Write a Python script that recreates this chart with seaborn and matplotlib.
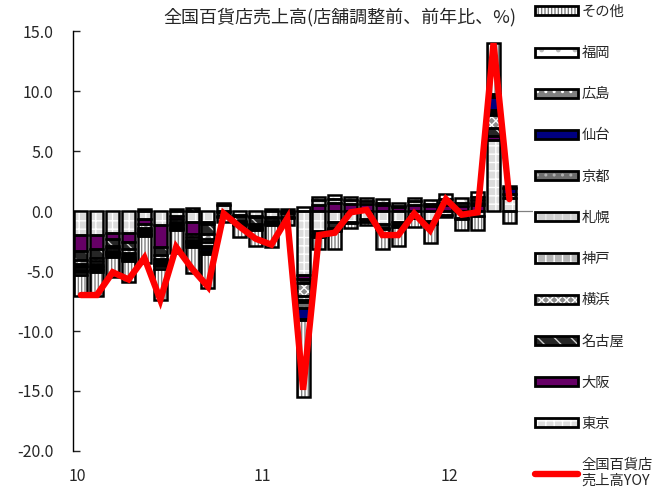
import numpy as np
import matplotlib
matplotlib.use("Agg")
import matplotlib.pyplot as plt
from matplotlib.patches import Patch
from matplotlib.lines import Line2D
import seaborn as sns

# monthly contributions by city (Jan 2010 - Apr 2012), % points
tokyo = [-2.0, -2.0, -1.8, -1.8, -0.7, -1.2, -0.4, -0.9, -0.9, 0.5, -0.3, -0.4, -0.5, -0.2,
         -5.3, -1.7, -0.9, -0.9, -0.7, -1.1, -0.9, -0.5, -0.8, -0.3, -0.6, -0.4, 5.9, 1.1]
osaka = [-1.3, -1.2, -0.5, -0.8, -0.4, -1.8, -0.3, -1.0, -0.2, -0.1, -0.1, -0.1, -0.1, 0.0,
         -0.4, 0.5, 0.7, 0.6, 0.6, 0.5, 0.3, 0.5, 0.4, 0.5, 0.4, 0.5, 0.4, 0.0]
nagoya = [-0.8, -0.7, -0.6, -0.6, 0.2, -0.7, 0.2, 0.25, -0.8, -0.3, -0.4, -0.6, 0.2, -0.3,
          -0.3, -0.2, -0.5, -0.1, -0.2, -0.3, -0.3, -0.1, -0.2, 0.2, -0.1, 0.2, 0.6, 0.3]
yokohama = [-0.3, -0.3, -0.2, -0.3, -0.3, -0.3, -0.2, -0.3, -0.4, -0.1, -0.1, -0.1, -0.2, -0.1,
            -1.1, -0.1, -0.1, 0.0, 0.0, -0.1, -0.1, 0.0, -0.1, 0.0, 0.0, 0.2, 1.1, 0.0]
kobe = [-0.2, -0.2, -0.2, -0.2, -0.2, -0.2, -0.2, -0.2, -0.3, 0.0, -0.1, -0.1, -0.1, 0.0,
        -0.3, 0.0, -0.1, 0.0, 0.0, 0.0, 0.0, 0.0, 0.0, 0.0, 0.0, 0.0, 0.2, 0.0]
sapporo = [-0.1, -0.2, -0.1, -0.1, -0.1, -0.1, -0.1, -0.1, -0.3, 0.0, 0.0, -0.1, -0.1, 0.0,
           -0.2, 0.4, 0.3, 0.3, 0.2, 0.2, 0.15, 0.3, 0.2, 0.3, 0.3, 0.3, 0.1, 0.0]
kyoto = [-0.2, -0.1, -0.1, -0.1, -0.1, -0.1, -0.1, -0.1, -0.2, 0.0, -0.1, -0.1, -0.1, 0.0,
         -0.5, -0.1, -0.1, 0.0, 0.0, 0.0, 0.0, 0.0, 0.0, 0.0, 0.0, 0.0, 0.1, 0.0]
sendai = [-0.1, -0.1, -0.1, -0.1, -0.1, -0.1, -0.1, -0.1, -0.2, 0.0, 0.0, 0.0, 0.0, 0.0,
          -0.9, -0.1, 0.0, 0.0, 0.0, 0.0, 0.0, 0.0, 0.0, 0.0, 0.0, 0.0, 1.1, 0.5]
hiroshima = [-0.1, -0.1, -0.1, -0.1, -0.1, -0.1, -0.1, -0.1, -0.1, 0.0, 0.0, 0.0, 0.0, 0.0,
             -0.1, 0.0, 0.0, 0.0, 0.0, 0.0, 0.0, 0.0, 0.0, 0.0, 0.0, 0.0, 0.1, 0.0]
fukuoka = [-0.2, -0.2, -0.1, -0.1, -0.1, -0.2, -0.1, -0.2, -0.2, 0.2, -0.1, -0.1, -0.1, 0.2,
           0.3, 0.3, 0.3, 0.3, 0.3, 0.3, 0.2, 0.3, 0.3, 0.4, 0.4, 0.4, 0.2, 0.2]
other = [-1.8, -2.0, -1.7, -1.7, -2.2, -2.6, -1.9, -2.2, -2.8, -0.4, -1.0, -1.3, -1.8, -0.6,
         -6.4, -1.0, -1.5, -0.4, -0.3, -1.7, -1.6, -0.7, -1.6, -0.2, -0.9, -1.2, 4.2, -1.0]

# total YoY
yoy = [-7.0, -7.0, -5.1, -5.7, -3.9, -7.4, -3.0, -4.8, -6.3, -0.2, -1.3, -2.3, -2.8, -0.6,
       -14.9, -2.0, -1.8, -0.1, 0.1, -2.0, -2.0, -0.2, -1.6, 1.0, -0.3, -0.1, 14.0, 1.0]

year_labels = ["10", "11", "12"]

# name, values, facecolor, hatch, hatch colour (stack order from zero outward)
series = [
    ("東京", tokyo, "#dcdcdc", "++", "white"),
    ("大阪", osaka, "#660066", "", "#660066"),
    ("名古屋", nagoya, "#262626", "\\\\", "#d0d0d0"),
    ("横浜", yokohama, "#8c8c8c", "xxxx", "white"),
    ("神戸", kobe, "#b4b4b4", "++", "white"),
    ("札幌", sapporo, "#cfcfcf", "||", "#e8e8e8"),
    ("京都", kyoto, "#6e6e6e", "..", "#b0b0b0"),
    ("仙台", sendai, "#000080", "", "#000080"),
    ("広島", hiroshima, "#7f7f7f", "..", "white"),
    ("福岡", fukuoka, "white", ".", "#bbbbbb"),
    ("その他", other, "white", "|||||", "#808080"),
]

sns.set_style("white")
plt.rcParams["font.family"] = ["Noto Sans CJK JP", "DejaVu Sans"]
plt.rcParams["hatch.linewidth"] = 1.0

n = len(yoy)
xpos = np.arange(n)
order = list(range(n))

fig = plt.figure(figsize=(6.64, 4.95), dpi=100)
ax = fig.add_axes([0.110, 0.089, 0.693, 0.848])

ax.axhline(0, color="#808080", lw=0.9, zorder=0)

pos_base = np.zeros(n)
neg_base = np.zeros(n)
handles = []
for name, vals, fc, hatch, hc in series:
    v = np.array(vals, dtype=float)
    base = np.where(v >= 0, pos_base, neg_base)
    mask = v != 0
    # filled / hatched layer
    sns.barplot(x=xpos[mask], y=v[mask], order=order, bottom=base[mask], width=0.82,
                color=fc, facecolor=fc, hatch=hatch, edgecolor=hc, linewidth=0,
                errorbar=None, ax=ax, zorder=1)
    # black outline
    sns.barplot(x=xpos[mask], y=v[mask], order=order, bottom=base[mask], width=0.82,
                color="black", fill=False, edgecolor="black", linewidth=1.8,
                errorbar=None, ax=ax, zorder=1.5)
    pos_base = pos_base + np.where(v > 0, v, 0)
    neg_base = neg_base + np.where(v < 0, v, 0)
    handles.append((Patch(facecolor=fc, hatch=hatch, edgecolor=hc, linewidth=0),
                    Patch(fill=False, edgecolor="black", linewidth=2.0)))

sns.lineplot(x=xpos, y=yoy, color="red", linewidth=4.6, ax=ax, zorder=3,
             solid_capstyle="round", solid_joinstyle="miter")

ax.set_xlim(-0.5, 28.5)
ax.set_ylim(-20, 15)
ax.set_yticks(np.arange(-20, 15.1, 5))
ax.set_yticklabels([f"{t:.1f}" for t in np.arange(-20, 15.1, 5)])
ax.set_xticks([-0.2, 11.45, 23.2])
ax.set_xticklabels(year_labels)
ax.tick_params(axis="y", direction="in", length=5, width=1, pad=14, labelsize=11.5, left=True)
ax.tick_params(axis="x", length=0, pad=12, labelsize=11.5)
ax.set_xlabel("")
ax.set_ylabel("")
for side in ["top", "right", "bottom"]:
    ax.spines[side].set_visible(False)
ax.spines["left"].set_color("black")
ax.spines["left"].set_linewidth(1.0)

fig.text(0.512, 0.965, "全国百貨店売上高(店舗調整前、前年比、%)", ha="center", va="center",
         fontsize=13)

leg_handles = handles[::-1] + [Line2D([0], [0], color="red", lw=4.6, solid_capstyle="round")]
leg_labels = [s[0] for s in series][::-1] + ["全国百貨店\n売上高YOY"]
fig.legend(leg_handles, leg_labels, loc="upper left", bbox_to_anchor=(0.806, 0.99),
           frameon=False, fontsize=10.3, handlelength=3.0, handleheight=0.6,
           handletextpad=0.25, labelspacing=1.9, borderpad=0, borderaxespad=0)

fig.savefig("out.png", dpi=100)
